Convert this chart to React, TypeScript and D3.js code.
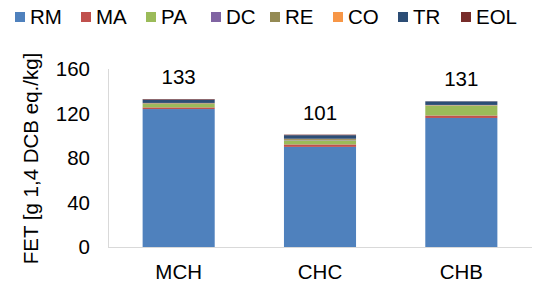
import React from 'react';
import * as d3 from 'd3';

const width = 538;
const height = 285;

const categories = ['MCH', 'CHC', 'CHB'];
const stages = ['RM', 'MA', 'PA', 'DC', 'RE', 'CO', 'TR', 'EOL'];
const stageColors = ['#4F81BD', '#C0504D', '#9BBB59', '#8064A2', '#948A54', '#F79646', '#2C4D75', '#772C2A'];

// FET per stage, one array per stage, in category order
const RM = [124, 90, 116];
const MA = [1.5, 2.2, 2.2];
const PA = [3, 3.5, 8.8];
const DC = [0.3, 0.3, 0.2];
const RE = [0.5, 1, 0.3];
const CO = [0.2, 0.3, 0.2];
const TR = [3, 3.2, 3.2];
const EOL = [0.5, 0.5, 0.1];
const totals = [133, 101, 131];
const yTicks = [0, 40, 80, 120, 160];

const font = '"Liberation Sans", Arial, sans-serif';
const fs = 20.5;

export default function App() {
  const series = [RM, MA, PA, DC, RE, CO, TR, EOL];
  const rows = categories.map((c, i) => {
    const r: any = {cat: c};
    stages.forEach((s, j) => (r[s] = series[j][i]));
    return r;
  });
  const stacked = d3.stack().keys(stages)(rows);

  const x = d3.scaleBand().domain(categories).range([108, 532]).paddingInner(0.49).paddingOuter(0.245);
  const y = d3.scaleLinear().domain([0, 160]).range([247, 69]);

  return (
    <svg width={width} height={height} style={{position: 'absolute', left: 0, top: 0}} fontFamily={font}>
      {/* legend */}
      {stages.map((s, i) => {
        const lx = [15, 81, 146, 211, 270, 333, 398, 461][i];
        return (
          <g key={s}>
            <rect x={lx} y={12} width={10} height={10} fill={stageColors[i]} />
            <text x={lx + 15} y={24} fontSize={fs} fill="#000">{s}</text>
          </g>
        );
      })}

      {/* bars */}
      {stacked.map((layer, j) => (
        <g key={stages[j]} fill={stageColors[j]}>
          {layer.map((d, i) => (
            <rect
              key={i}
              x={x(categories[i])}
              width={x.bandwidth()}
              y={y(d[1])}
              height={Math.max(0, y(d[0]) - y(d[1]))}
            />
          ))}
        </g>
      ))}

      {/* axes */}
      <line x1={108.5} x2={108.5} y1={69} y2={247.5} stroke="#D9D9D9" />
      <line x1={108} x2={532} y1={247.5} y2={247.5} stroke="#D9D9D9" />

      {yTicks.map(t => (
        <text key={t} x={90} y={y(t)} dy="0.35em" textAnchor="end" fontSize={fs} fill="#000">
          {t}
        </text>
      ))}

      {categories.map(c => (
        <text key={c} x={x(c)! + x.bandwidth() / 2} y={279} textAnchor="middle" fontSize={fs} fill="#000">
          {c}
        </text>
      ))}

      {categories.map((c, i) => (
        <text key={c} x={x(c)! + x.bandwidth() / 2} y={y(totals[i]) - 15} textAnchor="middle" fontSize={fs} fill="#000">
          {totals[i]}
        </text>
      ))}

      <text
        transform={`translate(38,158.5) rotate(-90)`}
        textAnchor="middle"
        fontSize={fs}
        fill="#000"
      >
        FET [g 1,4 DCB eq./kg]
      </text>
    </svg>
  );
}
